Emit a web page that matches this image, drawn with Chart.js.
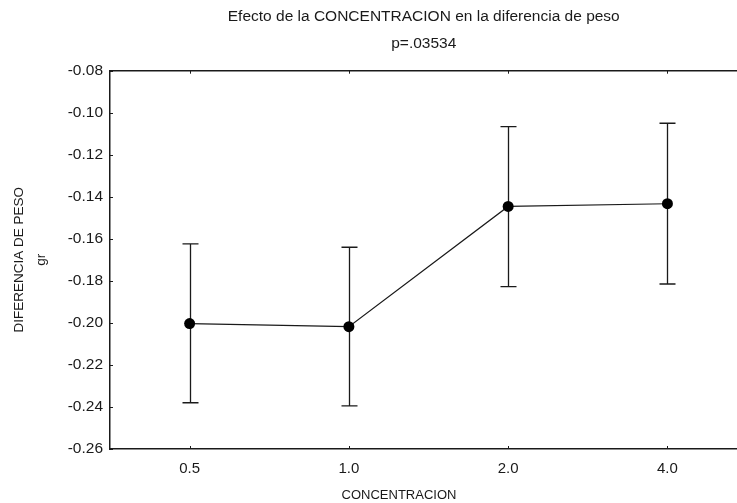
<!DOCTYPE html>
<html>
<head>
<meta charset="utf-8">
<script src="https://cdn.jsdelivr.net/npm/chart.js@4.4.1/dist/chart.umd.min.js"></script>
<style>
  html, body { margin: 0; padding: 0; background: #fff; overflow: hidden; }
  /* el lienzo sobresale un poco por la derecha: el marco queda cortado en el borde */
  #wrap { width: 743px; height: 503px; }
</style>
</head>
<body>
<div id="wrap"><canvas id="grafico"></canvas></div>
<script>
// Medias y limites del intervalo por nivel de concentracion
const concentraciones = ['0.5', '1.0', '2.0', '4.0'];
const medias = [-0.2003, -0.2018, -0.1446, -0.1433];
const limiteInferior = [-0.2380, -0.2395, -0.1827, -0.1815];
const limiteSuperior = [-0.1624, -0.1640, -0.1066, -0.1050];
const marcasY = [-0.08, -0.10, -0.12, -0.14, -0.16, -0.18, -0.20, -0.22, -0.24, -0.26];

const TINTA = '#1a1a1a';
const FUENTE = 'Liberation Sans, Arial, sans-serif';

// Barras de error (se pintan debajo de los puntos)
const errorBars = {
    id: 'errorBars',
    beforeDatasetsDraw(chart) {
        const { ctx, scales: { x, y } } = chart;
        ctx.save();
        ctx.strokeStyle = TINTA;
        ctx.lineWidth = 1.3;
        concentraciones.forEach((_, i) => {
            const px = Math.round(x.getPixelForValue(i)) + 0.5;
            const top = y.getPixelForValue(limiteSuperior[i]);
            const bot = y.getPixelForValue(limiteInferior[i]);
            ctx.beginPath();
            ctx.moveTo(px, top);
            ctx.lineTo(px, bot);
            ctx.moveTo(px - 8, top);
            ctx.lineTo(px + 8, top);
            ctx.moveTo(px - 8, bot);
            ctx.lineTo(px + 8, bot);
            ctx.stroke();
        });
        ctx.restore();
    }
};

// Borde superior, marcas cortas hacia dentro y rotulo del eje X
const marco = {
    id: 'marco',
    afterDraw(chart) {
        const { ctx, chartArea: a, scales: { x, y } } = chart;
        ctx.save();
        ctx.strokeStyle = TINTA;
        ctx.lineWidth = 1.5;
        ctx.beginPath();
        ctx.moveTo(a.left, a.top);
        ctx.lineTo(a.right, a.top);
        ctx.stroke();
        ctx.lineWidth = 1;
        ctx.beginPath();
        concentraciones.forEach((_, i) => {
            const px = Math.round(x.getPixelForValue(i)) + 0.5;
            ctx.moveTo(px, a.bottom);
            ctx.lineTo(px, a.bottom - 3);
            ctx.moveTo(px, a.top);
            ctx.lineTo(px, a.top + 3);
        });
        marcasY.forEach(v => {
            const py = Math.round(y.getPixelForValue(v)) + 0.5;
            ctx.moveTo(a.left, py);
            ctx.lineTo(a.left + 3, py);
        });
        ctx.stroke();

        ctx.fillStyle = TINTA;
        ctx.font = '13px ' + FUENTE;
        ctx.textAlign = 'center';
        ctx.textBaseline = 'middle';
        ctx.fillText('CONCENTRACION', a.left + 289, a.bottom + 46);
        ctx.restore();
    }
};

new Chart(document.getElementById('grafico'), {
    type: 'line',
    data: {
        datasets: [{
            data: medias.map((m, i) => ({ x: i, y: m })),
            borderColor: TINTA,
            borderWidth: 1.2,
            pointRadius: 5.5,
            pointBackgroundColor: '#000',
            pointBorderColor: '#000',
            pointBorderWidth: 0,
            tension: 0
        }]
    },
    options: {
        responsive: true,
        maintainAspectRatio: false,
        animation: false,
        events: [],
        layout: { padding: 0 },
        plugins: {
            legend: { display: false },
            tooltip: { enabled: false },
            title: {
                display: true,
                fullSize: false,
                text: ['Efecto de la CONCENTRACION en la diferencia de peso', 'p=.03534'],
                color: TINTA,
                font: { family: FUENTE, size: 15.5, weight: 'normal', lineHeight: 1.7 },
                padding: { top: 4, bottom: 14 }
            }
        },
        scales: {
            x: {
                type: 'linear',
                min: -0.5,
                max: 3.44,
                afterBuildTicks: s => { s.ticks = concentraciones.map((_, i) => ({ value: i })); },
                afterFit: s => { s.height = 54; },
                grid: { display: false, drawTicks: false },
                border: { display: true, color: TINTA, width: 1.5 },
                ticks: {
                    padding: 11,
                    color: TINTA,
                    font: { family: FUENTE, size: 15 },
                    callback: v => concentraciones[v]
                }
            },
            y: {
                min: -0.26,
                max: -0.08,
                afterBuildTicks: s => { s.ticks = marcasY.map(v => ({ value: v })); },
                afterFit: s => { s.width = 110; },
                grid: { display: false, drawTicks: false },
                border: { display: true, color: TINTA, width: 1.5 },
                ticks: {
                    padding: 7,
                    color: TINTA,
                    font: { family: FUENTE, size: 15.5 },
                    callback: v => v.toFixed(2)
                },
                title: {
                    display: true,
                    text: ['DIFERENCIA DE PESO', 'gr'],
                    color: TINTA,
                    font: { family: FUENTE, size: 13.5, lineHeight: 1.63 },
                    padding: { top: 8, bottom: 0 }
                }
            }
        }
    },
    plugins: [errorBars, marco]
});
</script>
</body>
</html>
